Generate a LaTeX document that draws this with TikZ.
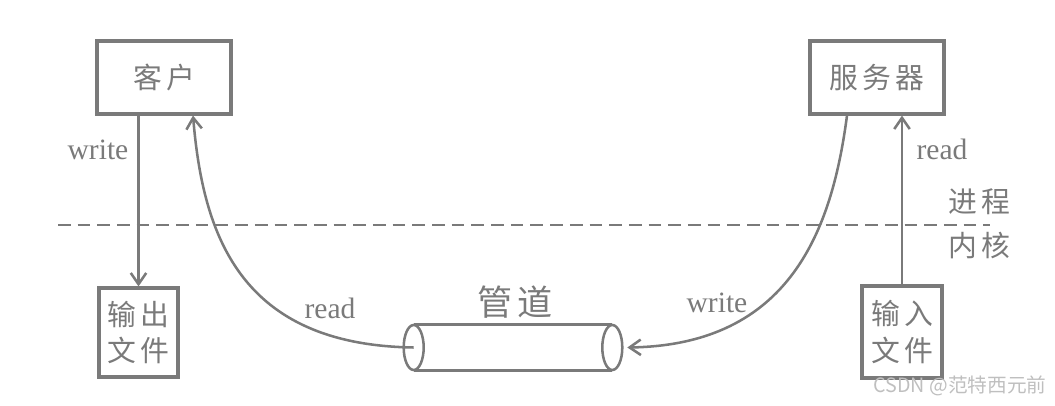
\documentclass[tikz,border=0pt]{standalone}
\usepackage{fontspec}
\setmainfont{Liberation Serif}
\newfontfamily\cjk[LetterSpace=15]{Noto Sans CJK SC}
\newfontfamily\wmfont{Noto Sans CJK SC}
\usetikzlibrary{arrows.meta,calc}
\definecolor{linegray}{RGB}{122,122,122}
\tikzset{
  box/.style={draw=linegray, line width=2.2pt, inner sep=0pt, text=linegray,
    align=center, font=\cjk\fontsize{20.5}{26}\selectfont},
  conn/.style={draw=linegray, line width=1.8pt,
    -{Straight Barb[length=8pt,width=11pt,line width=1.8pt]}},
  lbl/.style={text=linegray, font=\fontsize{21}{24}\selectfont},
  cjklbl/.style={text=linegray, font=\cjk\fontsize{20.5}{22}\selectfont},
}
\begin{document}
\begin{tikzpicture}[x=0.025cm, y=-0.025cm]
    \useasboundingbox (0,0) rectangle (1055,406);
    % process side
    \node[box, minimum width=3.35cm, minimum height=1.825cm] (kehu) at (164,77.5) {客户};
    \node[box, minimum width=3.35cm, minimum height=1.825cm] (fuwuqi) at (877,77.5) {服务器};
    % kernel side
    \node[box, minimum width=1.975cm, minimum height=2.225cm] (shuchu) at (138.5,332.5) {输出\\文件};
    \node[box, minimum width=2cm, minimum height=2.3cm] (shuru) at (902,332) {输入\\文件};
    \node[minimum width=4.95cm, minimum height=1.125cm, inner sep=0pt] (pipe) at (513,347.5) {};
    \draw[linegray, line width=1.8pt] (pipe.north west) -- (pipe.north east)
        (pipe.south west) -- (pipe.south east);
    \draw[linegray, line width=1.8pt] (pipe.west) ellipse [x radius=10, y radius=22.5];
    \draw[linegray, line width=1.8pt] (pipe.east) ellipse [x radius=10, y radius=22.5];
    \node[cjklbl, font=\cjk\fontsize{25}{28}\selectfont] (guandao) at (515,302) {管道};
    % boundary
    \draw[linegray, line width=1.8pt, dash pattern=on 9pt off 5pt] (58,225) -- (990,225);
    \node[cjklbl] (jincheng) at (979,202) {进程};
    \node[cjklbl] (neihe) at (979,246) {内核};
    % connectors
    \draw[conn] (shuchu.north |- kehu.south) -- (shuchu.north);
    \draw[conn] (shuru.north) -- (shuru.north |- fuwuqi.south);
    \draw[conn] (pipe.west) .. controls (240,345) and (203,235) .. ($(kehu.south)+(29,0)$);
    \draw[conn] ($(fuwuqi.south)+(-30,0)$) .. controls (832,230) and (790,345) .. ($(pipe.east)+(15,0)$);
    \node[lbl] (w1) at (98,150) {write};
    \node[lbl] (r1) at (942,149) {read};
    \node[lbl] (r2) at (330,308) {read};
    \node[lbl] (w2) at (717,303) {write};
    \node[text=black!25, font=\wmfont\fontsize{14}{16}\selectfont] (wm) at (960,386) {CSDN @范特西元前};
\end{tikzpicture}
\end{document}
